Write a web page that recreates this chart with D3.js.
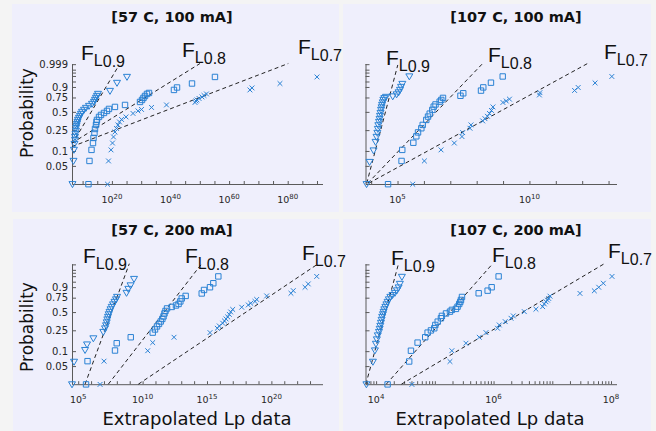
<!DOCTYPE html>
<html>
<head>
<meta charset="utf-8">
<script src="https://cdn.jsdelivr.net/npm/d3@7"></script>
<style>
  body { margin: 0; background: #f4f4f4; }
  svg { display: block; font-family: "DejaVu Sans", Verdana, sans-serif; }
</style>
</head>
<body>
<svg id="chart" width="656" height="431"></svg>
<script>
// probability (weibull) axis
var probTicks = [0.05, 0.1, 0.25, 0.5, 0.75, 0.9, 0.95, 0.98, 0.99, 0.995, 0.999];
var probLabelsLeft = [0.05, 0.1, 0.25, 0.5, 0.75, 0.9, 0.999];
var probLabelsLower = [0.05, 0.1, 0.25, 0.5, 0.75, 0.9];
var probRange = [0.0212, 0.9992];

var titles = ["[57 C, 100 mA]", "[107 C, 100 mA]", "[57 C, 200 mA]", "[107 C, 200 mA]"];
var fitNames = ["0.9", "0.8", "0.7"];

// x limits and labelled decades
var xLimits = [[2.4e6, 7.6e91], [6.1e3, 2.0e13], [3.3e4, 9.3e23], [6.6e3, 1.24e8]];
var xLabelExp = [[20, 40, 60, 80], [5, 10], [5, 10, 15, 20], [4, 6, 8]];

// [57 C, 100 mA]  -- [Lp, probability]
var d57_100_L09 = [[3.5e6,0.021],[7.8e6,0.063],[1.1e7,0.105],[1.7e7,0.137],[2.6e7,0.164],[2.6e7,0.187],[3.8e7,0.213],[5.6e7,0.242],[5.6e7,0.273],[8.3e7,0.297],[1.2e8,0.321],[1.8e8,0.347],[2.7e8,0.375],[5.9e8,0.404],[1.3e9,0.434],[2.8e9,0.466],[6.3e9,0.499],[3.0e10,0.533],[1.4e11,0.567],[1.5e12,0.602],[1.6e13,0.638],[7.8e13,0.673],[1.7e14,0.708],[3.7e14,0.743],[8.1e14,0.775],[1.8e15,0.807],[2.2e19,0.850],[5.5e21,0.939],[1.4e25,0.976]];
var d57_100_L08 = [[1.0e12,0.021],[2.2e12,0.063],[1.1e13,0.105],[3.5e13,0.143],[5.2e13,0.179],[1.1e14,0.222],[1.7e14,0.262],[3.7e14,0.309],[5.5e14,0.347],[8.1e14,0.375],[4.0e15,0.419],[1.9e16,0.450],[2.0e17,0.482],[2.1e18,0.516],[1.0e19,0.550],[1.1e21,0.585],[3.0e24,0.620],[3.9e29,0.673],[1.9e30,0.708],[6.0e30,0.743],[2.0e31,0.775],[9.5e31,0.807],[4.6e32,0.822],[1.5e41,0.864],[1.7e42,0.894],[2.2e47,0.934],[1.5e55,0.976]];
var d57_100_L07 = [[3.2e18,0.021],[6.9e18,0.063],[4.9e19,0.105],[1.6e20,0.143],[3.5e20,0.187],[1.1e21,0.231],[3.7e21,0.268],[1.2e22,0.309],[3.9e22,0.347],[1.9e23,0.382],[6.5e24,0.419],[1.6e27,0.474],[8.1e28,0.516],[1.3e30,0.541],[3.3e33,0.576],[4.3e38,0.620],[2.3e48,0.664],[5.0e48,0.690],[1.1e49,0.708],[5.4e49,0.734],[5.6e50,0.759],[2.7e51,0.783],[1.9e52,0.807],[1.3e67,0.864],[6.6e67,0.889],[2.3e77,0.934],[1.0e90,0.976]];

// [107 C, 100 mA]
var d107_100_L09 = [[6.7e3,0.021],[8.7e3,0.060],[1.23e4,0.102],[1.47e4,0.150],[1.60e4,0.187],[1.72e4,0.222],[1.79e4,0.262],[1.87e4,0.304],[1.99e4,0.347],[2.08e4,0.389],[2.17e4,0.434],[2.27e4,0.482],[2.37e4,0.533],[2.48e4,0.576],[2.59e4,0.620],[2.75e4,0.664],[2.90e4,0.708],[3.16e4,0.738],[3.66e4,0.759],[6.58e4,0.767],[9.2e4,0.799],[1.09e5,0.829],[1.24e5,0.864],[1.36e5,0.900],[1.52e5,0.930],[2.80e5,0.978]];
var d107_100_L08 = [[4.37e4,0.021],[1.42e5,0.063],[1.51e5,0.105],[3.97e5,0.145],[5.15e5,0.192],[5.98e5,0.227],[7.98e5,0.270],[9.0e5,0.309],[1.23e6,0.375],[1.43e6,0.424],[1.66e6,0.471],[2.08e6,0.533],[2.35e6,0.590],[2.75e6,0.629],[3.96e6,0.678],[4.56e6,0.708],[5.29e6,0.743],[2.43e7,0.778],[3.10e7,0.817],[1.46e8,0.855],[1.78e8,0.895],[3.48e8,0.941],[9.7e8,0.978]];
var d107_100_L07 = [[3.77e5,0.021],[1.04e6,0.063],[4.45e6,0.105],[1.42e7,0.143],[2.77e7,0.190],[2.95e7,0.225],[5.57e7,0.270],[6.08e7,0.309],[1.69e8,0.361],[2.06e8,0.393],[2.56e8,0.429],[3.05e8,0.474],[3.64e8,0.524],[4.14e8,0.585],[9.9e8,0.664],[1.32e9,0.690],[1.75e9,0.722],[2.39e10,0.791],[2.50e10,0.826],[5.15e11,0.857],[7.05e11,0.894],[3.08e12,0.939],[1.33e13,0.978]];

// [57 C, 200 mA]
var d57_200_L09 = [[3.3e4,0.021],[4.75e4,0.061],[3.4e5,0.105],[4.85e5,0.135],[1.50e6,0.177],[8.9e6,0.233],[1.21e7,0.270],[1.45e7,0.305],[1.64e7,0.343],[1.83e7,0.384],[2.07e7,0.422],[2.34e7,0.462],[2.71e7,0.502],[3.24e7,0.545],[4.01e7,0.588],[5.06e7,0.632],[6.6e7,0.677],[8.6e7,0.720],[1.04e8,0.762],[5.65e8,0.825],[7.8e8,0.879],[1.16e9,0.918],[2.16e9,0.967]];
var d57_200_L08 = [[4.06e5,0.021],[5.3e5,0.063],[7.2e7,0.103],[9.8e7,0.143],[1.20e9,0.186],[6.1e10,0.227],[9.2e10,0.259],[1.32e11,0.293],[1.88e11,0.324],[2.55e11,0.356],[3.4e11,0.392],[4.2e11,0.430],[5.0e11,0.477],[6.0e11,0.519],[7.9e11,0.562],[1.82e12,0.588],[3.9e12,0.614],[6.2e12,0.641],[8.5e12,0.686],[1.09e13,0.737],[2.2e13,0.779],[3.9e14,0.817],[5.9e14,0.866],[1.71e15,0.899],[3.1e15,0.938],[7.6e15,0.979]];
var d57_200_L07 = [[5.0e6,0.021],[1.01e7,0.063],[2.5e10,0.102],[6.1e10,0.147],[2.75e12,0.186],[1.71e15,0.227],[6.3e15,0.272],[9.0e15,0.299],[1.66e16,0.333],[2.29e16,0.363],[3.0e16,0.392],[4.06e16,0.422],[5.4e16,0.462],[6.9e16,0.502],[9.9e16,0.545],[4.95e17,0.583],[1.61e18,0.623],[2.48e18,0.653],[5.3e18,0.686],[7.2e18,0.720],[4.3e19,0.779],[3.3e21,0.820],[5.0e21,0.857],[4.1e22,0.899],[7.3e22,0.932],[3.3e23,0.979]];

// [107 C, 200 mA]
var d107_200_L09 = [[6.84e3,0.021],[8.82e3,0.061],[9.54e3,0.103],[9.93e3,0.139],[1.03e4,0.169],[1.07e4,0.201],[1.12e4,0.233],[1.15e4,0.265],[1.18e4,0.299],[1.21e4,0.337],[1.24e4,0.378],[1.27e4,0.422],[1.31e4,0.462],[1.34e4,0.502],[1.38e4,0.545],[1.44e4,0.588],[1.50e4,0.632],[1.57e4,0.677],[1.65e4,0.720],[1.75e4,0.762],[1.90e4,0.791],[2.09e4,0.825],[2.26e4,0.860],[2.42e4,0.896],[2.54e4,0.932],[2.75e4,0.977]];
var d107_200_L08 = [[1.57e4,0.021],[3.66e4,0.062],[3.92e4,0.102],[5.09e4,0.147],[6.86e4,0.186],[7.54e4,0.227],[8.58e4,0.249],[9.78e4,0.272],[1.02e5,0.311],[1.12e5,0.354],[1.27e5,0.402],[1.32e5,0.438],[1.55e5,0.477],[1.81e5,0.507],[1.95e5,0.537],[2.29e5,0.554],[2.44e5,0.593],[2.60e5,0.641],[2.71e5,0.677],[2.79e5,0.712],[2.90e5,0.762],[5.58e5,0.820],[7.93e5,0.857],[9.28e5,0.899],[1.22e6,0.979]];
var d107_200_L07 = [[4.07e4,0.021],[1.81e5,0.062],[1.95e5,0.102],[3.39e5,0.143],[5.71e5,0.186],[7.43e5,0.227],[1.17e6,0.272],[1.25e6,0.311],[1.58e6,0.354],[1.98e6,0.402],[2.17e6,0.438],[3.34e6,0.507],[5.27e6,0.549],[6.86e6,0.593],[7.31e6,0.641],[7.81e6,0.679],[8.28e6,0.708],[8.69e6,0.737],[9.14e6,0.775],[2.96e7,0.818],[5.20e7,0.855],[6.18e7,0.899],[7.40e7,0.938],[1.04e8,0.979]];

// fitted weibull lines, two end points each [Lp, probability]
var fit57_100 = [[[2.5e6,0.136],[1.5e22,0.998]], [[2.5e6,0.143],[1.2e50,0.9992]], [[2.5e6,0.122],[1.6e80,0.9992]]];
var fit107_100 = [[[6.8e3,0.022],[1.02e5,0.9987]], [[7.4e3,0.022],[1.69e8,0.9992]], [[8.1e3,0.022],[1.6e12,0.9992]]];
var fit57_200 = [[[3.4e5,0.0212],[9.3e8,0.9992]], [[2.18e7,0.0212],[3.9e14,0.9992]], [[4.66e9,0.0212],[4.4e23,0.9992]]];
var fit107_200 = [[[6.7e3,0.0212],[2.4e4,0.9991]], [[1.49e4,0.0212],[9.66e5,0.9992]], [[2.7e4,0.0212],[7.69e7,0.9992]]];

var panelData = [
  [d57_100_L09, d57_100_L08, d57_100_L07],
  [d107_100_L09, d107_100_L08, d107_100_L07],
  [d57_200_L09, d57_200_L08, d57_200_L07],
  [d107_200_L09, d107_200_L08, d107_200_L07]
];
var panelFits = [fit57_100, fit107_100, fit57_200, fit107_200];

// layout of the four tiles
var tileBox = [[12, 4, 327, 208], [343, 4, 308, 208], [13, 219, 326, 212], [343, 219, 308, 212]];
var plotBox = [[72, 322.5, 63.5, 184], [365.5, 616.5, 63.5, 184], [72, 322.5, 263.7, 384.2], [365.5, 616.5, 263.7, 384.2]];
var titlePos = [[172, 21.5], [516, 21.5], [172, 235], [516, 235]];
// F label anchors (left of "F", baseline)
var fLabelPos = [
  [[81, 60], [182, 57], [298, 53.5]],
  [[386, 65], [488, 62], [604, 59]],
  [[83, 263], [185, 263], [302, 260]],
  [[391, 265], [492, 262], [608, 258]]
];

var markerColor = "#2a82d4";
var markerPaths = [
  "M-3.5,-2.6L3.5,-2.6L0,3.4Z",
  "M-2.7,-2.7H2.7V2.7H-2.7Z",
  "M-2.4,-2.4L2.4,2.4M-2.4,2.4L2.4,-2.4"
];

var weib = function(p) { return Math.log(-Math.log(1 - p)); };

var svg = d3.select("#chart");

svg.selectAll("rect.tile")
  .data(tileBox)
  .enter()
  .append("rect")
  .attr("class", "tile")
  .attr("x", d => d[0])
  .attr("y", d => d[1])
  .attr("width", d => d[2])
  .attr("height", d => d[3])
  .attr("fill", "#efeffc");

panelData.forEach(function(series, i) {
  var b = plotBox[i];
  var g = svg.append("g");

  var xScale = d3.scaleLog().domain(xLimits[i]).range([b[0], b[1]]);
  var yScale = d3.scaleLinear().domain([weib(probRange[0]), weib(probRange[1])]).range([b[3], b[2]]);

  // x tick values
  var lo = Math.log10(xLimits[i][0]), hi = Math.log10(xLimits[i][1]);
  var xTicks = [];
  if (i === 0) {
    for (var e = 10; e <= hi; e += 5) xTicks.push(Math.pow(10, e));
  } else if (i === 3) {
    xTicks = xScale.ticks();
  } else {
    for (var e2 = Math.ceil(lo); e2 <= hi; e2++) xTicks.push(Math.pow(10, e2));
  }

  var bottomAxis = d3.axisBottom(xScale)
    .tickValues(xTicks)
    .tickSizeInner(-3)
    .tickSizeOuter(0)
    .tickFormat("");
  var xAxis = g.append("g")
    .attr("transform", `translate(0, ${b[3]})`)
    .call(bottomAxis);
  xAxis.select(".domain").attr("stroke", "#5a5a5a");
  xAxis.selectAll(".tick line").attr("stroke", "#5a5a5a");

  // x tick labels 10^n
  xLabelExp[i].forEach(function(n) {
    var t = g.append("text")
      .attr("x", xScale(Math.pow(10, n)))
      .attr("y", b[3] + 19)
      .attr("text-anchor", "middle")
      .style("font-size", "9.5px")
      .style("fill", "#262626")
      .text("10");
    t.append("tspan")
      .attr("dy", -4.5)
      .style("font-size", "7px")
      .text(n);
  });

  // y axis
  var labels = i === 0 ? probLabelsLeft : (i === 2 ? probLabelsLower : []);
  var leftAxis = d3.axisLeft(yScale)
    .tickValues(probTicks.map(weib))
    .tickSizeInner(-4)
    .tickSizeOuter(0)
    .tickPadding(4)
    .tickFormat(function(w, k) {
      var p = probTicks[k];
      return labels.indexOf(p) >= 0 ? String(p) : "";
    });
  var yAxis = g.append("g")
    .attr("transform", `translate(${b[0]}, 0)`)
    .call(leftAxis);
  yAxis.select(".domain").attr("stroke", "#5a5a5a");
  yAxis.selectAll(".tick line").attr("stroke", "#5a5a5a");
  yAxis.selectAll(".tick text")
    .style("font-family", "DejaVu Sans")
    .style("font-size", "10px")
    .style("fill", "#262626");

  // fit lines
  var line = d3.line()
    .x(d => xScale(d[0]))
    .y(d => yScale(weib(d[1])));
  g.selectAll("path.fit")
    .data(panelFits[i])
    .enter()
    .append("path")
    .attr("class", "fit")
    .attr("d", line)
    .attr("fill", "none")
    .attr("stroke", "#222")
    .attr("stroke-width", 1)
    .attr("stroke-dasharray", "4,3");

  // markers
  series.forEach(function(pts, s) {
    g.selectAll(null)
      .data(pts)
      .enter()
      .append("path")
      .attr("transform", d => `translate(${xScale(d[0])}, ${yScale(weib(d[1]))})`)
      .attr("d", markerPaths[s])
      .attr("fill", "none")
      .attr("stroke", markerColor)
      .attr("stroke-width", 1);
  });

  // F labels
  fLabelPos[i].forEach(function(pos, s) {
    var t = g.append("text")
      .attr("x", pos[0])
      .attr("y", pos[1])
      .style("font-family", "Liberation Sans, Arial, sans-serif")
      .style("font-size", "21px")
      .style("fill", "#111")
      .text("F");
    t.append("tspan")
      .attr("dy", 6)
      .style("font-size", "16px")
      .text("L");
    t.append("tspan")
      .attr("dy", 1)
      .style("font-size", "16px")
      .text(fitNames[s]);
  });

  // title
  g.append("text")
    .attr("x", titlePos[i][0])
    .attr("y", titlePos[i][1])
    .attr("text-anchor", "middle")
    .style("font-weight", "bold")
    .style("font-size", "14.5px")
    .style("fill", "#111")
    .text(titles[i]);
});

// axis titles
[113, 327].forEach(function(cy) {
  svg.append("text")
    .attr("transform", `translate(33, ${cy}) rotate(-90)`)
    .attr("text-anchor", "middle")
    .style("font-size", "17px")
    .style("fill", "#111")
    .text("Probability");
});
[197, 490].forEach(function(cx) {
  svg.append("text")
    .attr("x", cx)
    .attr("y", 425)
    .attr("text-anchor", "middle")
    .style("font-size", "18px")
    .style("fill", "#111")
    .text("Extrapolated Lp data");
});
</script>
</body>
</html>
